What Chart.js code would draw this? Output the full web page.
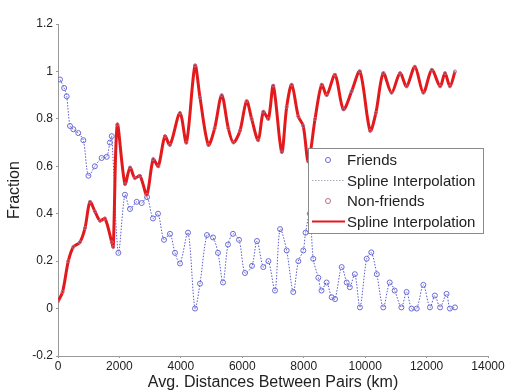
<!DOCTYPE html>
<html>
<head>
<meta charset="utf-8">
<script src="https://cdn.jsdelivr.net/npm/chart.js@4"></script>
<style>
  html, body { margin: 0; padding: 0; background: #fff; }
  #wrap { width: 512px; height: 392px; }
</style>
</head>
<body>
<div id="wrap"><canvas id="fracChart" width="512" height="392"></canvas></div>
<script>
// values
const friendsKm = [65, 200, 283, 390, 500, 660, 825, 990, 1200, 1420, 1585, 1690, 1750, 1965, 2180, 2344, 2562, 2725, 2900,
    3093, 3256, 3451, 3646, 3809, 3972, 4233, 4460, 4623, 4851, 5047, 5209, 5372, 5535, 5698, 5893, 6088, 6316, 6479,
    6685, 6850, 7065, 7230, 7445, 7660, 7825, 7985, 8060, 8200, 8310, 8475, 8580, 8745, 8910, 9020, 9235, 9400, 9500,
    9665, 9830, 10050, 10200, 10380, 10590, 10800, 10960, 11180, 11350, 11510, 11680, 11895, 12110, 12270, 12440,
    12650, 12760, 12925];
const friendsFrac = [0.966, 0.93, 0.895, 0.77, 0.756, 0.74, 0.71, 0.56, 0.6, 0.635, 0.64, 0.7, 0.727, 0.235, 0.48, 0.42, 0.45, 0.445, 0.47,
    0.38, 0.4, 0.29, 0.315, 0.235, 0.19, 0.32, 0.0, 0.105, 0.31, 0.3, 0.235, 0.11, 0.27, 0.315, 0.29, 0.15, 0.18, 0.285,
    0.175, 0.2, 0.076, 0.335, 0.245, 0.07, 0.2, 0.245, 0.32, 0.4, 0.21, 0.13, 0.076, 0.11, 0.048, 0.04, 0.175, 0.11, 0.09,
    0.145, 0.005, 0.21, 0.237, 0.145, 0.005, 0.11, 0.076, 0.005, 0.07, 0.0, 0.0, 0.1, 0.005, 0.055, 0.005,
    0.062, 0.0, 0.005];

const nonFriendsKm = [0, 150, 335, 500, 715, 880, 1040, 1200, 1370, 1530, 1750, 1800, 1930, 2180, 2345, 2500, 2670, 2890,
    3100, 3265, 3480, 3645, 3970, 4180, 4460, 4623, 4895, 5100, 5330, 5545, 5710, 5925, 6140, 6305, 6520, 6685, 6850,
    7010, 7283, 7445, 7610, 7825, 7985, 8150, 8370, 8585, 8750, 9020, 9290, 9560, 9830, 10160, 10350, 10590, 10860,
    11135, 11350, 11620, 11895, 12170, 12440, 12600, 12760, 12925];
const nonFriendsFrac = [0.03, 0.07, 0.2, 0.26, 0.28, 0.34, 0.45, 0.41, 0.37, 0.38, 0.28, 0.26, 0.776, 0.525, 0.595, 0.55, 0.56, 0.48,
    0.63, 0.6, 0.727, 0.69, 0.825, 0.7, 1.025, 0.89, 0.69, 0.76, 0.9, 0.76, 0.7, 0.75, 0.875, 0.8, 0.71, 0.83, 0.8,
    0.94, 0.66, 0.85, 0.944, 0.81, 0.77, 0.62, 0.8, 0.944, 0.9, 0.986, 0.84, 0.916, 1.0, 0.75, 0.825, 0.993, 0.91,
    0.993, 0.937, 1.02, 0.91, 1.007, 0.937, 0.993, 0.937, 1.0];

const seriesLabels = ["Friends", "Spline Interpolation", "Non-friends", "Spline Interpolation"];

const toPoints = (xs, ys) => xs.map((x, i) => ({ x: x, y: ys[i] }));

const fontFam = "'Liberation Sans', Arial, sans-serif";

// matlab style legend box drawn on top of the lines (white filled)
const boxLegend = {
    id: "boxLegend",
    afterDatasetsDraw(chart) {
        const ctx = chart.ctx;
        const area = chart.chartArea;
        const w = 175, h = 85;
        const x0 = area.right - 5 - w;
        const y0 = area.top + 124;
        ctx.save();
        ctx.fillStyle = "#fff";
        ctx.fillRect(x0, y0, w, h);
        ctx.strokeStyle = "#8a8a8a";
        ctx.lineWidth = 1;
        ctx.strokeRect(x0 + 0.5, y0 + 0.5, w, h);
        ctx.font = "15px " + fontFam;
        ctx.textBaseline = "middle";
        chart.data.datasets.forEach((ds, i) => {
            const y = y0 + 12 + i * 20.5;
            if (ds.showLine === false) {
                ctx.beginPath();
                ctx.arc(x0 + 20, y, 2.5, 0, Math.PI * 2);
                ctx.strokeStyle = ds.borderColor;
                ctx.lineWidth = 1;
                ctx.stroke();
            } else {
                ctx.beginPath();
                ctx.setLineDash(ds.borderDash || []);
                ctx.moveTo(x0 + 4, y);
                ctx.lineTo(x0 + 37, y);
                ctx.strokeStyle = ds.legendColor || ds.borderColor;
                ctx.lineWidth = ds.borderWidth > 2 ? 2 : 1;
                ctx.stroke();
                ctx.setLineDash([]);
            }
            ctx.fillStyle = "#222";
            ctx.fillText(ds.label, x0 + 39, y + 1);
        });
        ctx.restore();
    }
};

const ctx = document.getElementById("fracChart").getContext("2d");

new Chart(ctx, {
    type: "line",
    data: {
        datasets: [{
            label: seriesLabels[0],
            data: toPoints(friendsKm, friendsFrac),
            showLine: false,
            pointStyle: "circle",
            pointRadius: 2.5,
            borderColor: "#6a6ad6",
            backgroundColor: "rgba(0,0,0,0)",
            borderWidth: 1,
            order: 2
        }, {
            label: seriesLabels[1],
            data: toPoints(friendsKm, friendsFrac),
            pointRadius: 0,
            borderColor: "#5a5ad0",
            legendColor: "#aab",
            borderWidth: 1,
            borderDash: [1.5, 1.5],
            tension: 0.3,
            order: 3
        }, {
            label: seriesLabels[2],
            data: toPoints(nonFriendsKm, nonFriendsFrac),
            showLine: false,
            pointStyle: "circle",
            pointRadius: 1.5,
            borderColor: "#b07090",
            backgroundColor: "rgba(0,0,0,0)",
            borderWidth: 1,
            order: 0
        }, {
            label: seriesLabels[3],
            data: toPoints(nonFriendsKm, nonFriendsFrac),
            pointRadius: 0,
            borderColor: "#e3191c",
            borderWidth: 3,
            tension: 0.3,
            order: 1
        }]
    },
    options: {
        responsive: false,
        animation: false,
        layout: { padding: { top: 24, right: 24, left: 0, bottom: 0 } },
        plugins: {
            legend: { display: false },
            tooltip: { enabled: false }
        },
        scales: {
            x: {
                type: "linear",
                min: 0,
                max: 14000,
                afterFit: (s) => { s.height = 36; },
                border: { display: true, color: "#9a9a9a" },
                grid: { drawOnChartArea: false, drawTicks: true, tickLength: 2, color: "#9a9a9a" },
                ticks: {
                    stepSize: 2000,
                    padding: 1,
                    maxRotation: 0,
                    font: { size: 12, family: fontFam },
                    color: "#222",
                    callback: (v) => String(v)
                },
                title: {
                    display: true,
                    text: "Avg. Distances Between Pairs (km)",
                    font: { size: 16, family: fontFam },
                    color: "#222",
                    padding: { top: 0, bottom: 0 }
                }
            },
            y: {
                min: -0.2,
                max: 1.2,
                afterFit: (s) => { s.width = 58; },
                border: { display: true, color: "#9a9a9a" },
                grid: { drawOnChartArea: false, drawTicks: true, tickLength: 2, color: "#9a9a9a" },
                ticks: {
                    stepSize: 0.2,
                    padding: 3,
                    font: { size: 12, family: fontFam },
                    color: "#222",
                    callback: (v) => String(Math.round(v * 10) / 10)
                },
                title: {
                    display: true,
                    text: "Fraction",
                    font: { size: 16, family: fontFam },
                    color: "#222",
                    padding: { top: 5, bottom: 4 }
                }
            }
        }
    },
    plugins: [boxLegend]
});
</script>
</body>
</html>
